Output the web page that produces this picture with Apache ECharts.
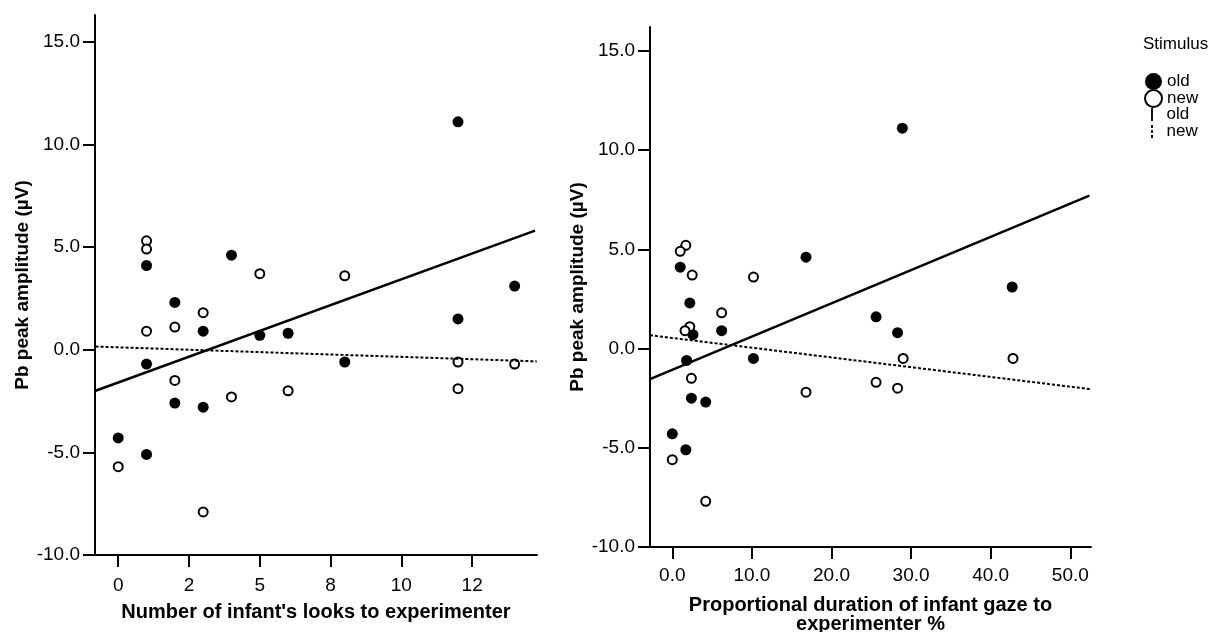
<!DOCTYPE html>
<html>
<head>
<meta charset="utf-8">
<script src="https://cdn.jsdelivr.net/npm/echarts@6/dist/echarts.min.js"></script>
<style>
  html, body { margin: 0; padding: 0; background: #fff; }
  #chart { width: 1214px; height: 632px; }
</style>
</head>
<body>
<div id="chart"></div>
<script>
// left panel: number of looks
const lookOldX = [12, 1, 4, 14, 2, 12, 3, 5, 6, 1, 8, 2, 3, 0, 1];
const lookOldY = [11.1, 4.1, 4.6, 3.1, 2.3, 1.5, 0.9, 0.7, 0.8, -0.7, -0.6, -2.6, -2.8, -4.3, -5.1];
const lookNewX = [1, 1, 5, 8, 3, 1, 2, 12, 14, 2, 6, 12, 4, 0, 3];
const lookNewY = [5.3, 4.9, 3.7, 3.6, 1.8, 0.9, 1.1, -0.6, -0.7, -1.5, -2.0, -1.9, -2.3, -5.7, -7.9];
const lookFitOld = [[-0.8, -2.0], [14.72, 5.8]];
const lookFitNew = [[-0.8, 0.15], [14.78, -0.57]];

// right panel: proportional gaze duration
const gazeOldX = [28.9, 1.0, 16.8, 42.7, 2.2, 25.6, 2.6, 6.2, 28.3, 1.8, 10.2, 2.4, 4.2, 0, 1.7];
const gazeOldY = [11.1, 4.1, 4.6, 3.1, 2.3, 1.6, 0.7, 0.9, 0.8, -0.6, -0.5, -2.5, -2.7, -4.3, -5.1];
const gazeNewX = [1.7, 1.0, 2.5, 10.2, 6.2, 2.2, 1.6, 29.0, 42.8, 2.4, 25.6, 28.3, 16.8, 0, 4.2];
const gazeNewY = [5.2, 4.9, 3.7, 3.6, 1.8, 1.1, 0.9, -0.5, -0.5, -1.5, -1.7, -2.0, -2.2, -5.6, -7.7];
const gazeFitOld = [[-2.8, -1.54], [52.4, 7.7]];
const gazeFitNew = [[-2.8, 0.67], [52.6, -2.05]];

// ticks
const yTicks = [-10, -5, 0, 5, 10, 15];
const lookTicks = [0, 2.5, 5, 7.5, 10, 12.5];
const lookTickLabels = ['0', '2', '5', '8', '10', '12'];
const gazeTicks = [0, 10, 20, 30, 40, 50];

const FONT = '"Liberation Sans", Arial, sans-serif';
const zip = (xs, ys) => xs.map((x, i) => [x, ys[i]]);

function xAx(idx, min, max, ticks, fmt, name, gap, margin) {
  return {
    type: 'value', gridIndex: idx, min: min, max: max,
    name: name, nameLocation: 'middle', nameGap: gap,
    nameTextStyle: { fontFamily: FONT, fontWeight: 'bold', fontSize: 20, color: '#000', lineHeight: 19 },
    axisLine: { show: true, onZero: false, lineStyle: { color: '#000', width: 2 } },
    axisTick: { show: true, length: 12, customValues: ticks, lineStyle: { color: '#000', width: 2 } },
    axisLabel: { customValues: ticks, formatter: fmt, margin: margin, fontFamily: FONT, fontSize: 19, color: '#000' },
    splitLine: { show: false }
  };
}
function yAx(idx, max) {
  return {
    type: 'value', gridIndex: idx, min: -10, max: max,
    name: 'Pb peak amplitude (µV)', nameLocation: 'middle', nameRotate: 90, nameGap: 63,
    nameTextStyle: { fontFamily: FONT, fontWeight: 'bold', fontSize: 19, color: '#000' },
    axisLine: { show: true, onZero: false, lineStyle: { color: '#000', width: 2 } },
    axisTick: { show: true, length: 12, customValues: yTicks, lineStyle: { color: '#000', width: 2 } },
    axisLabel: { customValues: yTicks, formatter: (v) => v.toFixed(1), margin: 15, fontFamily: FONT, fontSize: 19, color: '#000' },
    splitLine: { show: false }
  };
}

const oldStyle = { color: '#000', opacity: 1 };
const newStyle = { color: '#fff', borderColor: '#000', borderWidth: 2, opacity: 1 };

function scatter(name, idx, data, style, size) {
  return { name: name, type: 'scatter', xAxisIndex: idx, yAxisIndex: idx, data: data,
    symbol: 'circle', symbolSize: size, itemStyle: style, z: 3 };
}
function fit(name, idx, data, dash) {
  return { name: name, type: 'line', xAxisIndex: idx, yAxisIndex: idx, data: data,
    symbol: 'none', color: '#000', itemStyle: { color: '#000' },
    lineStyle: { color: '#000', width: dash ? 2 : 2.5, type: dash ? [3, 2] : 'solid' }, z: 4 };
}

const chart = echarts.init(document.getElementById('chart'));
chart.setOption({
  animation: false,
  backgroundColor: '#fff',
  title: { text: 'Stimulus', left: 1138, top: 31,
    textStyle: { fontFamily: FONT, fontWeight: 'normal', fontSize: 17, color: '#000' } },
  legend: [
    { data: ['old', 'new'], orient: 'vertical', left: 1139, top: 68, itemWidth: 17, itemHeight: 17,
      itemGap: -1, icon: 'circle', selectedMode: false,
      textStyle: { fontFamily: FONT, fontSize: 17, color: '#000', lineHeight: 16 } },
    { data: [
        { name: 'old fit', icon: 'path://M1,0h2v14h-2z' },
        { name: 'new fit', icon: 'path://M0,0h2v3h-2zM0,5h2v3h-2zM0,10h2v3h-2z' }
      ],
      orient: 'vertical', left: 1146, top: 101, itemWidth: 3, itemHeight: 13, itemGap: 0,
      selectedMode: false, formatter: (n) => n.replace(' fit', ''),
      textStyle: { fontFamily: FONT, fontSize: 17, color: '#000', lineHeight: 15, padding: [0, 0, 0, 8] } }
  ],
  grid: [
    { left: 95, top: 15, width: 442, height: 540, outerBoundsMode: 'none' },
    { left: 650, top: 27, width: 441, height: 520, outerBoundsMode: 'none' }
  ],
  xAxis: [
    xAx(0, -0.82, 14.79, lookTicks, (v) => lookTickLabels[lookTicks.indexOf(v)] || '',
      "Number of infant's looks to experimenter", 48, 21),
    xAx(1, -2.8, 52.6, gazeTicks, (v) => v.toFixed(1),
      'Proportional duration of infant gaze to\nexperimenter %', 49, 19)
  ],
  yAxis: [yAx(0, 16.3), yAx(1, 16.2)],
  series: [
    scatter('old', 0, zip(lookOldX, lookOldY), oldStyle, 11),
    scatter('new', 0, zip(lookNewX, lookNewY), newStyle, 9),
    fit('old fit', 0, lookFitOld, false),
    fit('new fit', 0, lookFitNew, true),
    scatter('old', 1, zip(gazeOldX, gazeOldY), oldStyle, 11),
    scatter('new', 1, zip(gazeNewX, gazeNewY), newStyle, 9),
    fit('old fit', 1, gazeFitOld, false),
    fit('new fit', 1, gazeFitNew, true)
  ]
});
</script>
</body>
</html>
